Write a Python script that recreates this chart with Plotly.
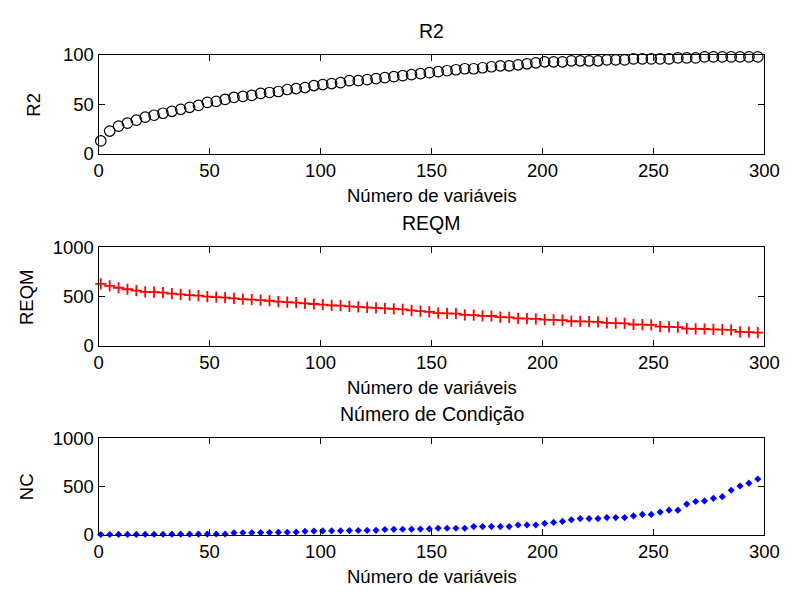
import plotly.graph_objects as go

# ---- data (x = number of variables) ----
n_vars = list(range(1, 298, 4))  # 1, 5, ..., 297  (75 points)

r2 = [13, 23, 28, 31, 34, 37, 39, 41, 43, 45, 47, 49, 52, 53, 55, 57, 58, 59, 61, 62,
      63, 65, 66, 67, 69, 70, 71, 72, 74, 74, 75, 76, 77, 78, 79, 80, 81, 82, 83, 84,
      85, 86, 86, 87, 88, 89, 89, 90, 91, 92, 93, 93, 93, 94, 94, 94, 94, 95, 95, 95,
      96, 96, 96, 96, 96, 97, 97, 97, 98, 98, 98, 98, 98, 98, 98]

reqm = [630, 610, 590, 575, 560, 548, 545, 540, 530, 522, 515, 510, 500, 495, 490, 482,
        475, 470, 465, 458, 450, 445, 440, 432, 425, 418, 412, 408, 400, 395, 390, 385,
        380, 375, 370, 360, 352, 345,
        332, 330, 328, 315, 313, 305, 303, 292, 290, 278, 276, 274, 266, 264, 262, 250,
        248, 246, 244, 233, 231, 229, 217, 215, 213, 195, 193, 191, 175, 173, 171, 167,
        165, 163, 142, 140, 135]

nc = [5, 5, 6, 6, 6, 7, 7, 7, 8, 8, 8, 9, 9, 10, 10,
      22, 23, 24, 25, 26, 27, 28, 29,
      38, 40,
      42, 43, 44, 45, 46, 47, 48,
      57, 58, 59, 60, 61,
      63,
      70, 70, 70, 70, 87, 87, 87, 87, 87, 103, 103, 103, 120, 130, 140, 157, 170, 170,
      170, 180, 180, 180, 197, 213, 213, 237, 257, 257, 320, 347, 353, 380, 397, 463,
      507, 537, 580]

x_ticks = [0, 50, 100, 150, 200, 250, 300]
titles = ["R2", "REQM", "Número de Condição"]
ylabels = ["R2", "REQM", "NC"]
xlabel = "Número de variáveis"
y_ranges = [[0, 100], [0, 1000], [0, 1000]]
y_ticks = [[0, 50, 100], [0, 500, 1000], [0, 500, 1000]]

W, H = 797, 599
FONT = "Arial, Liberation Sans, sans-serif"
FS = 18.5

# panel pixel boxes (left, right, top, bottom)
X0, X1 = 96, 779
panels = [(45.5, 148), (245, 347), (443, 543)]
ylabel_x = [29, 22, 22]


def fx(px):
    return px / W


def fy(py):
    return 1 - py / H


fig = go.Figure()

series = [r2, reqm, nc]
styles = [
    dict(symbol="circle-open", size=10.5, color="black", line=dict(width=1.2, color="black")),
    dict(symbol="cross-thin-open", size=8, color="red", line=dict(width=1.8, color="red")),
    dict(symbol="diamond", size=5.5, color="blue", line=dict(width=0)),
]

annotations = []
for i in range(3):
    xa = "x" if i == 0 else f"x{i+1}"
    ya = "y" if i == 0 else f"y{i+1}"
    fig.add_trace(go.Scatter(x=n_vars, y=series[i], mode="markers", marker=styles[i],
                             xaxis=xa, yaxis=ya, showlegend=False, cliponaxis=False))
    top, bot = panels[i]
    axis_common = dict(showline=True, linecolor="black", linewidth=1, mirror="ticks",
                       ticks="inside", ticklen=6, tickwidth=1, tickcolor="black",
                       showgrid=False, zeroline=False,
                       tickfont=dict(family=FONT, size=FS, color="black"))
    fig.update_layout(**{
        ("xaxis" if i == 0 else f"xaxis{i+1}"): dict(
            domain=[fx(X0), fx(X1)], range=[0, 300], tickvals=x_ticks,
            anchor=ya, **axis_common),
        ("yaxis" if i == 0 else f"yaxis{i+1}"): dict(
            domain=[fy(bot), fy(top)], range=y_ranges[i], tickvals=y_ticks[i],
            anchor=xa, **axis_common),
    })
    cx = fx((X0 + X1) / 2)
    annotations.append(dict(text=titles[i], x=cx, y=fy(top - 25), xref="paper", yref="paper",
                            showarrow=False, xanchor="center", yanchor="middle",
                            font=dict(family=FONT, size=FS + 1, color="black")))
    annotations.append(dict(text=xlabel, x=cx, y=fy(bot + 43), xref="paper", yref="paper",
                            showarrow=False, xanchor="center", yanchor="middle",
                            font=dict(family=FONT, size=FS, color="black")))
    annotations.append(dict(text=ylabels[i], x=fx(ylabel_x[i]), y=fy((top + bot) / 2),
                            xref="paper", yref="paper", textangle=-90,
                            showarrow=False, xanchor="center", yanchor="middle",
                            font=dict(family=FONT, size=FS, color="black")))

fig.update_layout(width=W, height=H, margin=dict(l=0, r=0, t=0, b=0),
                  paper_bgcolor="white", plot_bgcolor="white",
                  annotations=annotations)

fig.write_html("out.html")
